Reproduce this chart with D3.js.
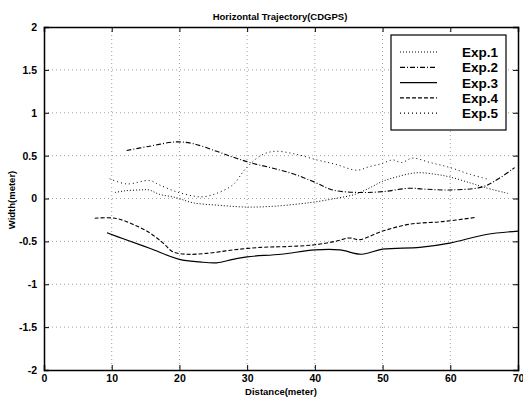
<!DOCTYPE html>
<html>
<head>
<meta charset="utf-8">
<script src="https://cdn.jsdelivr.net/npm/d3@7"></script>
<style>
  body { margin: 0; background: #fff; }
  svg { font-family: Arial, "Liberation Sans", sans-serif; }
</style>
</head>
<body>
<svg id="chart" width="523" height="398"></svg>
<script>
// values
var names = ["Exp.1", "Exp.2", "Exp.3", "Exp.4", "Exp.5"];
var xTicks = [0, 10, 20, 30, 40, 50, 60, 70];
var yTicks = [-2, -1.5, -1, -0.5, 0, 0.5, 1, 1.5, 2];

var exp1X = [10.5, 12, 14.2, 15.5, 17, 19.5, 22, 26, 30, 34, 38, 40, 43, 46, 48, 50, 52, 55, 58, 60, 63, 65, 68.5];
var exp1Y = [0.07, 0.09, 0.1, 0.1, 0.05, 0.01, -0.05, -0.08, -0.1, -0.09, -0.06, -0.04, 0.0, 0.05, 0.12, 0.2, 0.25, 0.3, 0.28, 0.25, 0.18, 0.13, 0.06];

var exp2X = [12.2, 15.6, 19.5, 22, 25.5, 28, 30.4, 36.3, 40, 42.6, 46.6, 50, 54, 56, 59.9, 64.5, 66.5, 69.5];
var exp2Y = [0.56, 0.61, 0.66, 0.64, 0.55, 0.48, 0.42, 0.3, 0.19, 0.1, 0.07, 0.08, 0.12, 0.11, 0.1, 0.13, 0.2, 0.36];

var exp3X = [9.3, 11.7, 15.6, 20, 23, 25.5, 27.9, 30, 35, 40, 43.7, 46.9, 50, 55.5, 59.9, 65.3, 70];
var exp3Y = [-0.4, -0.47, -0.58, -0.71, -0.74, -0.75, -0.71, -0.68, -0.65, -0.6, -0.6, -0.65, -0.59, -0.57, -0.52, -0.42, -0.38];

var exp4X = [7.5, 10.5, 13.1, 15.6, 17.6, 19, 21, 24, 27.9, 32, 36, 40, 43, 45.1, 46.6, 50, 54, 58.8, 63.8];
var exp4Y = [-0.23, -0.23, -0.3, -0.4, -0.52, -0.62, -0.65, -0.64, -0.6, -0.57, -0.56, -0.54, -0.5, -0.46, -0.48, -0.38, -0.3, -0.27, -0.22];

var exp5X = [9.7, 12.2, 15.6, 17, 19.5, 22, 23.5, 25.5, 27.9, 29.7, 32, 34, 37, 40.3, 43, 46.2, 48, 50, 51.5, 52.8, 54.4, 57, 60, 63, 65.8];
var exp5Y = [0.23, 0.17, 0.21, 0.16, 0.08, 0.03, 0.02, 0.06, 0.16, 0.34, 0.5, 0.55, 0.52, 0.45, 0.4, 0.33, 0.37, 0.41, 0.45, 0.42, 0.47, 0.42, 0.36, 0.28, 0.22];

var seriesX = [exp1X, exp2X, exp3X, exp4X, exp5X];
var seriesY = [exp1Y, exp2Y, exp3Y, exp4Y, exp5Y];
var dashes = ["1,2", "5,2,1,2", null, "4,2", "1,3"];
var widths = [1, 1.1, 1.2, 1.1, 1];

var svg = d3.select("#chart");
var plotL = 44, plotR = 518, plotT = 27, plotB = 370;

var x = d3.scaleLinear().domain([0, 70]).range([plotL, plotR]);
var y = d3.scaleLinear().domain([-2, 2]).range([plotB, plotT]);

// grid
var grid = svg.append("g");
grid.selectAll(".gx").data(xTicks.slice(1, -1)).enter()
  .append("line")
  .attr("x1", function(d){ return x(d); })
  .attr("x2", function(d){ return x(d); })
  .attr("y1", plotT).attr("y2", plotB)
  .attr("stroke", "#888").attr("stroke-width", 0.8)
  .attr("stroke-dasharray", "1,3");
grid.selectAll(".gy").data(yTicks.slice(1, -1)).enter()
  .append("line")
  .attr("y1", function(d){ return y(d); })
  .attr("y2", function(d){ return y(d); })
  .attr("x1", plotL).attr("x2", plotR)
  .attr("stroke", "#888").attr("stroke-width", 0.8)
  .attr("stroke-dasharray", "1,3");

// axes (ticks pointing inward, MATLAB style)
var xAxis = d3.axisBottom(x).tickValues(xTicks).tickSize(-5).tickPadding(5);
var yAxis = d3.axisLeft(y).tickValues(yTicks).tickSize(-5).tickPadding(7)
  .tickFormat(function(d){ return String(d); });

var gx = svg.append("g").attr("transform", "translate(0," + plotB + ")").call(xAxis);
var gy = svg.append("g").attr("transform", "translate(" + plotL + ",0)").call(yAxis);
svg.append("g").attr("transform", "translate(0," + plotT + ")")
  .call(d3.axisTop(x).tickValues(xTicks).tickSize(-5).tickFormat(""));
svg.append("g").attr("transform", "translate(" + plotR + ",0)")
  .call(d3.axisRight(y).tickValues(yTicks).tickSize(-5).tickFormat(""));

svg.selectAll(".domain").attr("stroke", "#000").attr("stroke-width", 1.5);
svg.selectAll(".tick line").attr("stroke", "#000");
[gx, gy].forEach(function(g){
  g.selectAll("text").attr("fill", "#000")
    .style("font-size", "10.5px").style("font-weight", "bold");
});

// curves
var line = d3.line()
  .x(function(d){ return x(d[0]); })
  .y(function(d){ return y(d[1]); })
  .curve(d3.curveCatmullRom);

seriesX.forEach(function(xs, i){
  var pts = xs.map(function(v, j){ return [v, seriesY[i][j]]; });
  svg.append("path")
    .datum(pts)
    .attr("d", line)
    .attr("fill", "none")
    .attr("stroke", "#000")
    .attr("stroke-width", widths[i])
    .attr("stroke-dasharray", dashes[i]);
});

// legend
var lg = svg.append("g");
lg.append("rect")
  .attr("x", 391).attr("y", 35).attr("width", 115).attr("height", 95)
  .attr("fill", "#fff").attr("stroke", "#000").attr("stroke-width", 1.2);
names.forEach(function(n, i){
  var cy = 52 + i * 15.3;
  lg.append("line")
    .attr("x1", 400).attr("x2", 437).attr("y1", cy).attr("y2", cy)
    .attr("stroke", "#000").attr("stroke-width", widths[i] + 0.2)
    .attr("stroke-dasharray", dashes[i]);
  lg.append("text")
    .attr("x", 498).attr("y", cy + 5)
    .attr("text-anchor", "end")
    .style("font-size", "13.5px").style("font-weight", "bold")
    .text(n);
});

// titles
svg.append("text")
  .attr("x", 280).attr("y", 20)
  .attr("text-anchor", "middle")
  .style("font-size", "9.5px").style("font-weight", "bold")
  .text("Horizontal Trajectory(CDGPS)");

svg.append("text")
  .attr("x", 281).attr("y", 395)
  .attr("text-anchor", "middle")
  .style("font-size", "9.5px").style("font-weight", "bold")
  .text("Distance(meter)");

svg.append("text")
  .attr("transform", "translate(15,200) rotate(-90)")
  .attr("text-anchor", "middle")
  .style("font-size", "9.5px").style("font-weight", "bold")
  .text("Width(meter)");
</script>
</body>
</html>
